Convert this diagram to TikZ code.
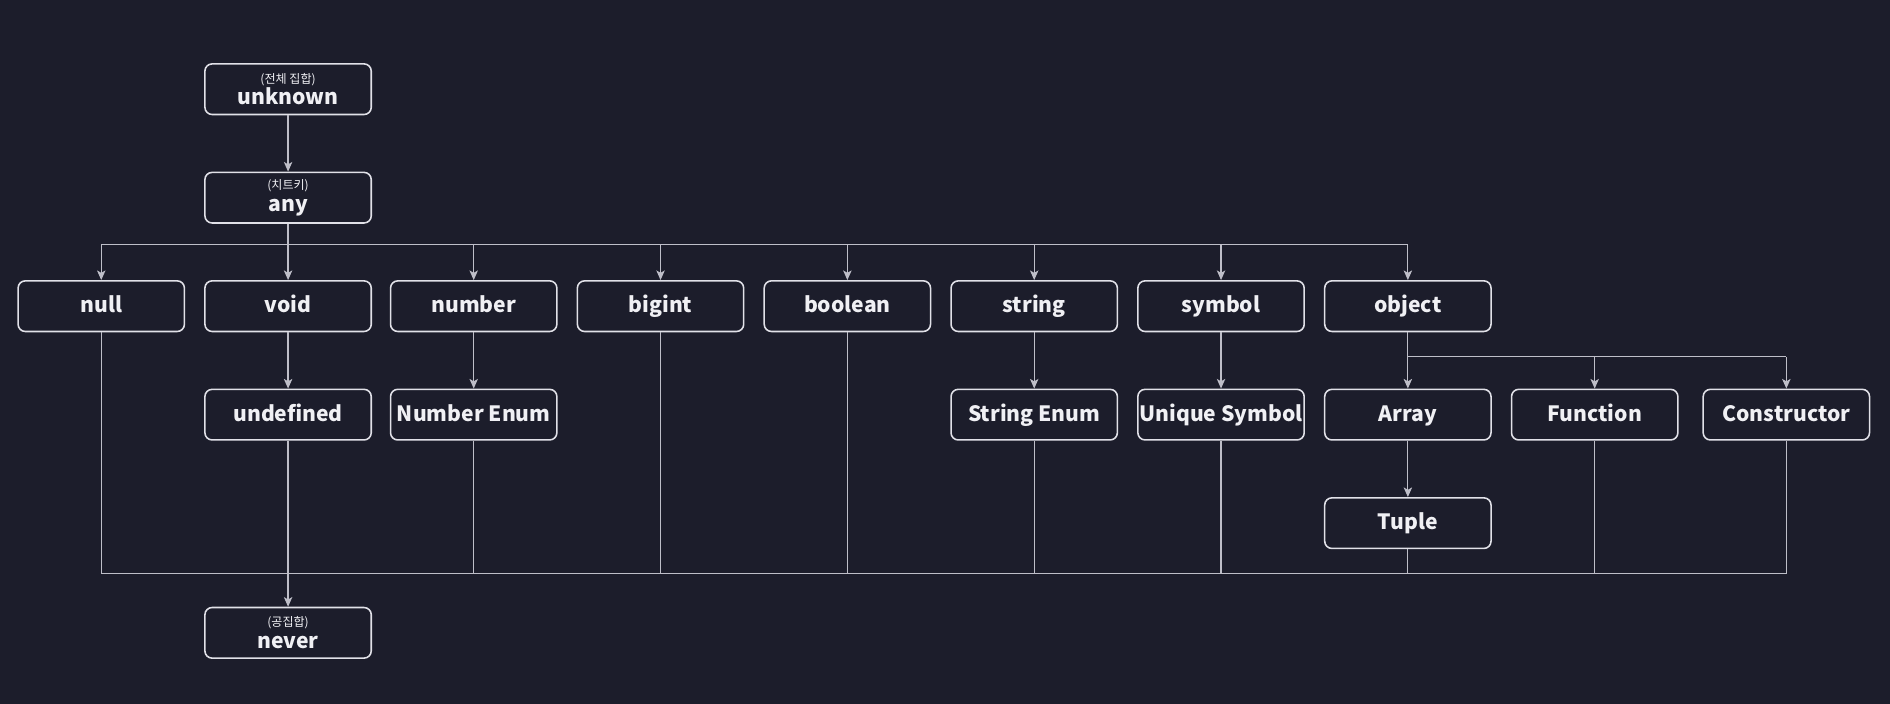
\documentclass[tikz,border=0pt]{standalone}
\usepackage{fontspec}
\setmainfont{Noto Sans CJK KR}
\usepackage{tikz}
\usetikzlibrary{arrows.meta}

\definecolor{bgnavy}{RGB}{28,29,43}
\definecolor{linegray}{RGB}{190,190,200}
\definecolor{boxline}{RGB}{225,225,232}
\definecolor{textwhite}{RGB}{240,240,244}

\tikzset{
    typebox/.style={draw=boxline, line width=1.3pt, rounded corners=6pt,
        minimum width=138pt, minimum height=42pt, inner sep=1pt,
        text=textwhite, font=\fontsize{17.5}{19}\selectfont\bfseries, align=center},
    onebox/.style={typebox, text height=14pt, text depth=3pt},
    link/.style={draw=linegray, line width=1pt},
    arr/.style={link, -{Stealth[length=8pt,width=7pt,inset=2pt]}}
}

\newcommand{\twoline}[2]{{\fontsize{10}{11}\selectfont\mdseries #1}\\[-1pt]#2}

\begin{document}
\begin{tikzpicture}[x=1pt,y=-1pt]
    \fill[bgnavy] (0,0) rectangle (1568,584);
    \useasboundingbox (0,0) rectangle (1568,584);

    % top of the tree
    \node[typebox] (unknown) at (239,74) {\twoline{(전체 집합)}{unknown}};
    \node[typebox] (any) at (239,164) {\twoline{(치트키)}{any}};
    \node[typebox] (never) at (239,525) {\twoline{(공집합)}{never}};

    % first row
    \node[onebox] (null) at (84,254) {null};
    \node[onebox] (void) at (239,254) {void};
    \node[onebox] (number) at (393,254) {number};
    \node[onebox] (bigint) at (548,254) {bigint};
    \node[onebox] (boolean) at (703,254) {boolean};
    \node[onebox] (string) at (858,254) {string};
    \node[onebox] (symbol) at (1013,254) {symbol};
    \node[onebox] (object) at (1168,254) {object};

    % second row
    \node[onebox] (undefined) at (239,344) {undefined};
    \node[onebox] (numenum) at (393,344) {Number Enum};
    \node[onebox] (strenum) at (858,344) {String Enum};
    \node[onebox] (uniqsym) at (1013,344) {Unique Symbol};
    \node[onebox] (array) at (1168,344) {Array};
    \node[onebox] (function) at (1323,344) {Function};
    \node[onebox] (constructor) at (1482,344) {Constructor};
    \node[onebox] (tuple) at (1168,434) {Tuple};

    \coordinate (anyfork) at (239,203);
    \coordinate (objfork) at (1168,296);
    \coordinate (floor) at (239,476);

    \draw[arr] (unknown) -- (any);

    % any -> first row
    \draw[link] (any.south) -- (anyfork);
    \draw[link] (null |- anyfork) -- (object |- anyfork);
    \foreach \n in {null,void,number,bigint,boolean,string,symbol,object}
        \draw[arr] (\n |- anyfork) -- (\n.north);

    \draw[arr] (void) -- (undefined);
    \draw[arr] (number) -- (numenum);
    \draw[arr] (string) -- (strenum);
    \draw[arr] (symbol) -- (uniqsym);

    % object -> second row
    \draw[link] (object.south) -- (objfork);
    \draw[link] (objfork) -- (constructor |- objfork);
    \foreach \n in {array,function,constructor}
        \draw[arr] (\n |- objfork) -- (\n.north);
    \draw[arr] (array) -- (tuple);

    % everything down to never
    \draw[link] (null.south) -- (null |- floor) -- (constructor |- floor) -- (constructor.south);
    \foreach \n in {bigint,boolean,numenum,strenum,uniqsym,tuple,function}
        \draw[link] (\n.south) -- (\n |- floor);
    \draw[arr] (undefined) -- (never);
\end{tikzpicture}
\end{document}
